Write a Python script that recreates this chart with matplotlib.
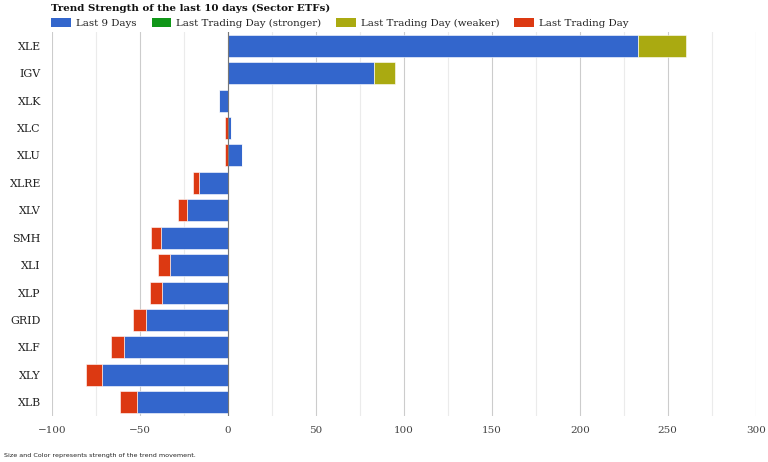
import matplotlib.pyplot as plt
import numpy as np
from matplotlib.patches import Patch
from matplotlib.ticker import MultipleLocator

# values
tickers = ['XLE', 'IGV', 'XLK', 'XLC', 'XLU', 'XLRE', 'XLV',
           'SMH', 'XLI', 'XLP', 'GRID', 'XLF', 'XLY', 'XLB']
last9 = np.array([233, 83, -5, 1.5, 8, -16.3, -23.1,
                  -38.1, -33, -37.3, -46.4, -58.9, -71.6, -51.7])
stronger = np.array([0, 0, 0, 0, 0, 0, 0, 0, 0, 0, 0, 0, 0, 0])
weaker = np.array([27.6, 11.7, 0, 0, 0, 0, 0, 0, 0, 0, 0, 0, 0, 0])
last_day = np.array([0, 0, -0.3, -1.4, -1.4, -3.4, -5.5,
                     -5.6, -6.8, -7.2, -7.6, -7.8, -9.3, -9.7])

labels = ['Last 9 Days', 'Last Trading Day (stronger)',
          'Last Trading Day (weaker)', 'Last Trading Day']
colors = ['#3366cc', '#109618', '#aaaa11', '#dc3912']

plt.rcParams['font.family'] = ['DejaVu Serif']

fig = plt.figure(figsize=(7.68, 4.62), dpi=100)
ax = fig.add_axes([0.0677, 0.0996, 0.9163, 0.8311])

y = np.arange(len(tickers))
h = 0.8
pos_base = np.where(last9 > 0, last9, 0)
neg_base = np.where(last9 < 0, last9, 0)

ax.barh(y, last9, height=h, color=colors[0], edgecolor='white', linewidth=0.4, zorder=2)
ax.barh(y, stronger, left=pos_base, height=h, color=colors[1], edgecolor='white', linewidth=0.4, zorder=2)
ax.barh(y, weaker, left=pos_base, height=h, color=colors[2], edgecolor='white', linewidth=0.4, zorder=2)
ax.barh(y, last_day, left=neg_base, height=h, color=colors[3], edgecolor='white', linewidth=0.4, zorder=2)

ax.axvline(0, color='#777777', lw=0.8, zorder=3)

ax.set_xlim(-100, 300)
ax.set_ylim(len(tickers) - 0.5, -0.5)
ax.set_yticks(y)
ax.set_yticklabels(tickers, fontsize=7.9, color='#222222')
ax.xaxis.set_major_locator(MultipleLocator(50))
ax.xaxis.set_minor_locator(MultipleLocator(25))
ax.tick_params(axis='x', which='both', length=0, labelsize=7.5, labelcolor='#444444', pad=7)
ax.tick_params(axis='y', length=0, pad=8)
ax.grid(axis='x', which='major', color='#cccccc', lw=0.8, zorder=0)
ax.grid(axis='x', which='minor', color='#ebebeb', lw=0.8, zorder=0)
ax.set_axisbelow(True)
for s in ax.spines.values():
    s.set_visible(False)

fig.text(0.0664, 0.981, 'Trend Strength of the last 10 days (Sector ETFs)',
         fontsize=7.4, fontweight='bold', color='#111111', va='center', ha='left')

handles = [Patch(facecolor=c, edgecolor='none') for c in colors]
fig.legend(handles, labels, loc='center left', bbox_to_anchor=(0.055, 0.951),
           ncol=4, frameon=False, fontsize=7.4, handlelength=1.9, handleheight=1.0,
           handletextpad=0.5, columnspacing=1.45, labelcolor='#222222')

fig.text(0.005, 0.008, 'Size and Color represents strength of the trend movement.',
         fontsize=4.6, family='DejaVu Sans', color='#222222', va='bottom', ha='left')

fig.savefig('out.png', dpi=100)
